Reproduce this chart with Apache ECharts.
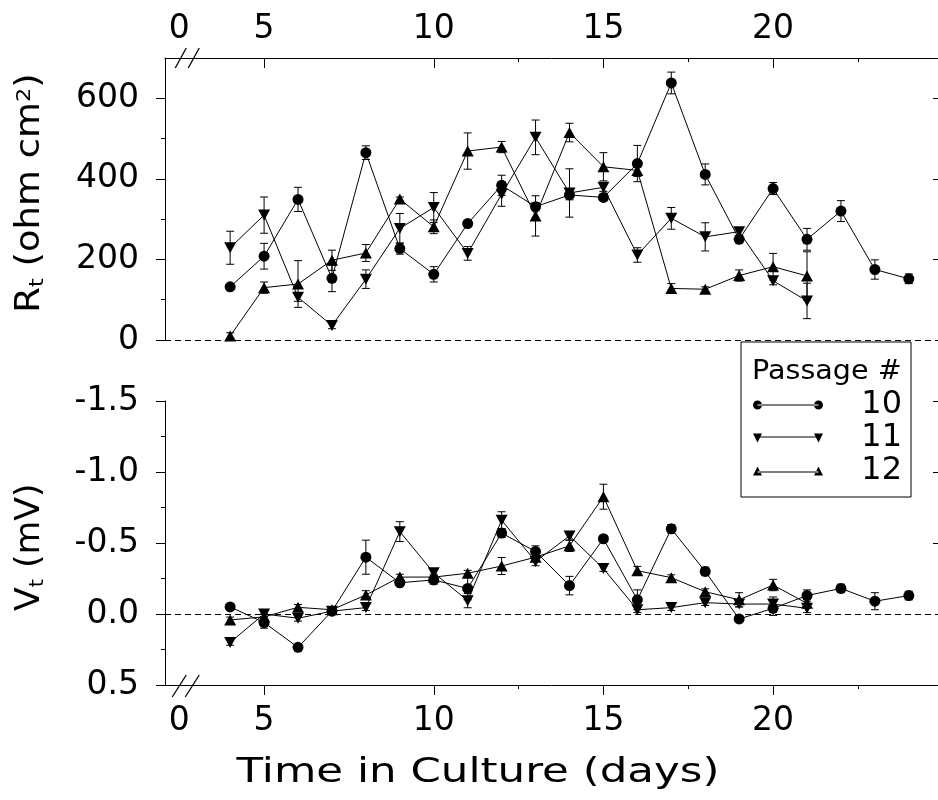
<!DOCTYPE html>
<html>
<head>
<meta charset="utf-8">
<script src="https://cdn.jsdelivr.net/npm/echarts@6/dist/echarts.min.js"></script>
<style>
html, body { margin: 0; padding: 0; background: #fff; }
#chart { width: 938px; height: 800px; }
</style>
</head>
<body>
<div id="chart"></div>
<script>
// days in culture
const days10 = [4, 5, 6, 7, 8, 9, 10, 11, 12, 13, 14, 15, 16, 17, 18, 19, 20, 21, 22, 23, 24]
const days11 = [4, 5, 6, 7, 8, 9, 10, 11, 12, 13, 14, 15, 16, 17, 18, 19, 20, 21]
const days12 = [4, 5, 6, 7, 8, 9, 10, 11, 12, 13, 14, 15, 16, 17, 18, 19, 20, 21]

// Rt (ohm cm2) and error
const rt10 = [132, 208, 349, 153, 465, 227, 163, 289, 384, 331, 360, 354, 438, 638, 411, 250, 376, 250, 320, 175, 152]
const rtErr10 = [6, 32, 30, 33, 17, 14, 19, 6, 25, 10, 12, 8, 45, 27, 26, 8, 15, 27, 26, 24, 12]
const rt11 = [229, 310, 106, 36, 151, 277, 329, 215, 362, 503, 365, 379, 211, 302, 256, 269, 147, 97]
const rtErr11 = [41, 45, 10, 8, 23, 37, 37, 17, 30, 43, 60, 10, 18, 27, 35, 10, 10, 44]
const rt12 = [10, 130, 139, 198, 216, 350, 281, 469, 479, 308, 515, 430, 421, 128, 126, 160, 182, 159]
const rtErr12 = [8, 14, 58, 25, 21, 5, 17, 45, 14, 50, 23, 35, 15, 12, 6, 14, 33, 60]

// Vt (mV) and error
const vt10 = [-0.05, 0.06, 0.235, -0.02, -0.40, -0.22, -0.24, -0.18, -0.57, -0.44, -0.20, -0.53, -0.10, -0.60, -0.30, 0.035, -0.04, -0.13, -0.18, -0.09, -0.13]
const vtErr10 = [0.02, 0.04, 0.02, 0.02, 0.12, 0.02, 0.03, 0.08, 0.03, 0.04, 0.065, 0.02, 0.07, 0.03, 0.03, 0.02, 0.05, 0.04, 0.03, 0.06, 0.03]
const vt11 = [0.2, 0.0, 0.03, -0.02, -0.045, -0.58, -0.29, -0.094, -0.66, -0.37, -0.55, -0.32, -0.03, -0.045, -0.08, -0.07, -0.07, -0.04]
const vtErr11 = [0.02, 0.02, 0.02, 0.02, 0.02, 0.07, 0.03, 0.05, 0.06, 0.03, 0.03, 0.02, 0.02, 0.02, 0.02, 0.02, 0.05, 0.03]
const vt12 = [0.042, 0.02, -0.047, -0.03, -0.134, -0.26, -0.26, -0.287, -0.338, -0.40, -0.48, -0.826, -0.305, -0.256, -0.157, -0.10, -0.204, -0.075]
const vtErr12 = [0.02, 0.02, 0.02, 0.02, 0.03, 0.02, 0.02, 0.02, 0.06, 0.02, 0.04, 0.088, 0.03, 0.02, 0.02, 0.05, 0.04, 0.03]

// tick labels
const xLabelVals = [2.5, 5, 10, 15, 20]
const xTickVals = [5, 10, 15, 20]
const xMinorVals = [12.5, 17.5, 22.5]
const rtTickVals = [0, 200, 400, 600]
const rtMinorVals = [100, 300, 500]
const vtTickVals = [-1.5, -1.0, -0.5, 0.0, 0.5]
const vtMinorVals = [-1.25, -0.75, -0.25, 0.25]

const FONT = 'DejaVu Sans'
const X_MIN = 2.08
const X_MAX = 24.86
const WIDE = 1.28   // the original lettering is much wider than DejaVu

let chart = echarts.init(document.getElementById('chart'))

function pairs(xs, ys) {
    return xs.map((x, i) => [x, ys[i]])
}
function triples(xs, ys, es) {
    return xs.map((x, i) => [x, ys[i], es[i]])
}

function errorBars(params, api) {
    let x = api.value(0)
    let y = api.value(1)
    let e = api.value(2)
    let hi = api.coord([x, y + e])
    let lo = api.coord([x, y - e])
    let w = 4
    let st = { stroke: '#000', lineWidth: 1 }
    return {
        type: 'group',
        children: [
            { type: 'line', shape: { x1: hi[0], y1: hi[1], x2: lo[0], y2: lo[1] }, style: st },
            { type: 'line', shape: { x1: hi[0] - w, y1: hi[1], x2: hi[0] + w, y2: hi[1] }, style: st },
            { type: 'line', shape: { x1: lo[0] - w, y1: lo[1], x2: lo[0] + w, y2: lo[1] }, style: st }
        ]
    }
}

function lineSeries(name, data, gridIdx, symbol, rotate, size) {
    return {
        name: name,
        type: 'line',
        xAxisIndex: gridIdx,
        yAxisIndex: gridIdx === 0 ? 0 : 3,
        data: data,
        symbol: symbol,
        symbolRotate: rotate,
        symbolSize: size,
        showAllSymbol: true,
        z: 3,
        lineStyle: { color: '#000', width: 1 },
        itemStyle: { color: '#000', borderWidth: 0 },
        emphasis: { disabled: true }
    }
}

function errSeries(name, data, gridIdx) {
    return {
        name: name,
        type: 'custom',
        xAxisIndex: gridIdx,
        yAxisIndex: gridIdx === 0 ? 0 : 3,
        data: data,
        renderItem: errorBars,
        encode: { x: 0, y: 1 },
        z: 2,
        silent: true
    }
}

function zeroLine() {
    return {
        silent: true,
        symbol: ['none', 'none'],
        label: { show: false },
        lineStyle: { color: '#000', type: [6, 4], width: 1 },
        data: [{ yAxis: 0 }]
    }
}

const labelStyle = { color: '#000', fontFamily: FONT, fontSize: 33 }
const blackLine = { show: true, onZero: false, lineStyle: { color: '#000', width: 1 } }
const noLine = { show: false, onZero: false }

// legend icons: marker - line - marker
const iconCircle = 'path://M0,4.5a4.5,4.5 0 1,0 9,0a4.5,4.5 0 1,0 -9,0z M4.5,4L65.5,4L65.5,5L4.5,5z M61,4.5a4.5,4.5 0 1,0 9,0a4.5,4.5 0 1,0 -9,0z'
const iconDown = 'path://M0,0L9,0L4.5,9z M4.5,3L65.5,3L65.5,4L4.5,4z M61,0L70,0L65.5,9z'
const iconUp = 'path://M0,9L9,9L4.5,0z M4.5,5L65.5,5L65.5,6L4.5,6z M61,9L70,9L65.5,0z'

let option = {
    animation: false,
    backgroundColor: '#fff',
    grid: [
        { left: 165, top: 58, width: 773, height: 282 },
        { left: 165, top: 401, width: 773, height: 284 }
    ],
    xAxis: [
        {
            type: 'value', gridIndex: 0, position: 'top', min: X_MIN, max: X_MAX,
            axisLine: blackLine,
            axisTick: { show: true, inside: true, length: 10, customValues: xTickVals, lineStyle: { color: '#000' } },
            axisLabel: Object.assign({ customValues: xLabelVals, margin: 12, formatter: v => (v === 2.5 ? '0' : String(v)) }, labelStyle),
            splitLine: { show: false }
        },
        {
            type: 'value', gridIndex: 1, position: 'bottom', min: X_MIN, max: X_MAX,
            axisLine: blackLine,
            axisTick: { show: true, inside: false, length: 10, customValues: xTickVals, lineStyle: { color: '#000' } },
            axisLabel: Object.assign({ customValues: xLabelVals, margin: 20, formatter: v => (v === 2.5 ? '0' : String(v)) }, labelStyle),
            splitLine: { show: false }
        },
        {
            type: 'value', gridIndex: 0, position: 'top', min: X_MIN, max: X_MAX,
            axisLine: noLine,
            axisTick: { show: true, inside: true, length: 4, customValues: xMinorVals, lineStyle: { color: '#000' } },
            axisLabel: { show: false }, splitLine: { show: false }
        },
        {
            type: 'value', gridIndex: 1, position: 'bottom', min: X_MIN, max: X_MAX,
            axisLine: noLine,
            axisTick: { show: true, inside: false, length: 4, customValues: xMinorVals, lineStyle: { color: '#000' } },
            axisLabel: { show: false }, splitLine: { show: false }
        }
    ],
    yAxis: [
        {
            type: 'value', gridIndex: 0, position: 'left', min: 0, max: 700,
            axisLine: blackLine,
            axisTick: { show: true, length: 9, customValues: rtTickVals, lineStyle: { color: '#000' } },
            axisLabel: Object.assign({ customValues: rtTickVals, margin: 26 }, labelStyle),
            splitLine: { show: false }
        },
        {
            type: 'value', gridIndex: 0, position: 'left', min: 0, max: 700,
            axisLine: noLine,
            axisTick: { show: true, length: 4, customValues: rtMinorVals, lineStyle: { color: '#000' } },
            axisLabel: { show: false }, splitLine: { show: false }
        },
        {
            type: 'value', gridIndex: 0, position: 'right', min: 0, max: 700,
            axisLine: noLine,
            axisTick: { show: true, inside: true, length: 5, customValues: [200, 400, 600], lineStyle: { color: '#000' } },
            axisLabel: { show: false }, splitLine: { show: false }
        },
        {
            type: 'value', gridIndex: 1, position: 'left', min: -1.5, max: 0.5, inverse: true,
            axisLine: blackLine,
            axisTick: { show: true, length: 9, customValues: vtTickVals, lineStyle: { color: '#000' } },
            axisLabel: Object.assign({ customValues: vtTickVals, margin: 26, formatter: v => v.toFixed(1) }, labelStyle),
            splitLine: { show: false }
        },
        {
            type: 'value', gridIndex: 1, position: 'left', min: -1.5, max: 0.5, inverse: true,
            axisLine: noLine,
            axisTick: { show: true, length: 4, customValues: vtMinorVals, lineStyle: { color: '#000' } },
            axisLabel: { show: false }, splitLine: { show: false }
        },
        {
            type: 'value', gridIndex: 1, position: 'right', min: -1.5, max: 0.5, inverse: true,
            axisLine: noLine,
            axisTick: { show: true, inside: true, length: 5, customValues: [-1.5, -1.0, -0.5], lineStyle: { color: '#000' } },
            axisLabel: { show: false }, splitLine: { show: false }
        }
    ],
    legend: {
        orient: 'vertical',
        left: 741,
        top: 342,
        padding: [47, 9, 10, 12],
        borderColor: '#000',
        borderWidth: 1,
        backgroundColor: '#fff',
        itemWidth: 70,
        itemHeight: 9,
        itemGap: 1,
        selectedMode: false,
        data: [
            { name: '10', icon: iconCircle },
            { name: '11', icon: iconDown },
            { name: '12', icon: iconUp }
        ],
        formatter: name => '{r|' + name + '}',
        textStyle: {
            color: '#000', fontFamily: FONT, fontSize: 32,
            rich: { r: { width: 74, align: 'right', fontFamily: FONT, fontSize: 32, lineHeight: 32, color: '#000' } }
        }
    },
    series: [
        Object.assign(lineSeries('10', pairs(days10, rt10), 0, 'circle', 0, 11), { markLine: zeroLine() }),
        lineSeries('11', pairs(days11, rt11), 0, 'triangle', 180, [12, 11]),
        lineSeries('12', pairs(days12, rt12), 0, 'triangle', 0, [12, 11]),
        Object.assign(lineSeries('10', pairs(days10, vt10), 1, 'circle', 0, 11), { markLine: zeroLine() }),
        lineSeries('11', pairs(days11, vt11), 1, 'triangle', 180, [12, 11]),
        lineSeries('12', pairs(days12, vt12), 1, 'triangle', 0, [12, 11]),
        errSeries('10', triples(days10, rt10, rtErr10), 0),
        errSeries('11', triples(days11, rt11, rtErr11), 0),
        errSeries('12', triples(days12, rt12, rtErr12), 0),
        errSeries('10', triples(days10, vt10, vtErr10), 1),
        errSeries('11', triples(days11, vt11, vtErr11), 1),
        errSeries('12', triples(days12, vt12, vtErr12), 1)
    ]
}

option && chart.setOption(option)

// axis break marks, axis titles and legend title
let topY = chart.convertToPixel({ yAxisIndex: 0 }, 700)
let botY = chart.convertToPixel({ yAxisIndex: 3 }, 0.5)
let bx = chart.convertToPixel({ xAxisIndex: 0 }, 2.5)
let rtMid = chart.convertToPixel({ yAxisIndex: 0 }, 365)
let vtMid = chart.convertToPixel({ yAxisIndex: 3 }, -0.47)
let st = { stroke: '#000', lineWidth: 1.3 }
const nameRich = {
    a: { fontFamily: FONT, fontSize: 33, fill: '#000', lineHeight: 40 },
    b: { fontFamily: FONT, fontSize: 20, fill: '#000', lineHeight: 40, verticalAlign: 'bottom', padding: [0, 0, 2, 0] },
    c: { fontFamily: FONT, fontSize: 20, fill: '#000', lineHeight: 40, verticalAlign: 'top', padding: [5, 0, 0, 0] }
}
chart.setOption({
    graphic: [
        { type: 'line', shape: { x1: bx - 4, y1: topY + 10, x2: bx + 7, y2: topY - 10 }, style: st },
        { type: 'line', shape: { x1: bx + 9, y1: topY + 10, x2: bx + 20, y2: topY - 10 }, style: st },
        { type: 'line', shape: { x1: bx - 7, y1: botY + 12, x2: bx + 7, y2: botY - 10 }, style: st },
        { type: 'line', shape: { x1: bx + 6, y1: botY + 12, x2: bx + 20, y2: botY - 10 }, style: st },
        {
            type: 'text', x: 478, y: 773, z: 10, scaleX: WIDE,
            style: { text: 'Time in Culture (days)', fontFamily: FONT, fontSize: 34, fill: '#000', align: 'center', verticalAlign: 'middle' }
        },
        {
            type: 'text', x: 30, y: rtMid, z: 10, rotation: Math.PI / 2, scaleX: 1.12,
            style: { text: '{a|R}{b|t}{a| (ohm cm}{c|2}{a|)}', rich: nameRich, align: 'center', verticalAlign: 'middle' }
        },
        {
            type: 'text', x: 30, y: vtMid, z: 10, rotation: Math.PI / 2, scaleX: 1.05,
            style: { text: '{a|V}{b|t}{a| (mV)}', rich: nameRich, align: 'center', verticalAlign: 'middle' }
        },
        {
            type: 'text', x: 752, y: 372, z: 10, scaleX: 1.1,
            style: { text: 'Passage #', fontFamily: FONT, fontSize: 26, fill: '#000', align: 'left', verticalAlign: 'middle' }
        }
    ]
})
</script>
</body>
</html>
